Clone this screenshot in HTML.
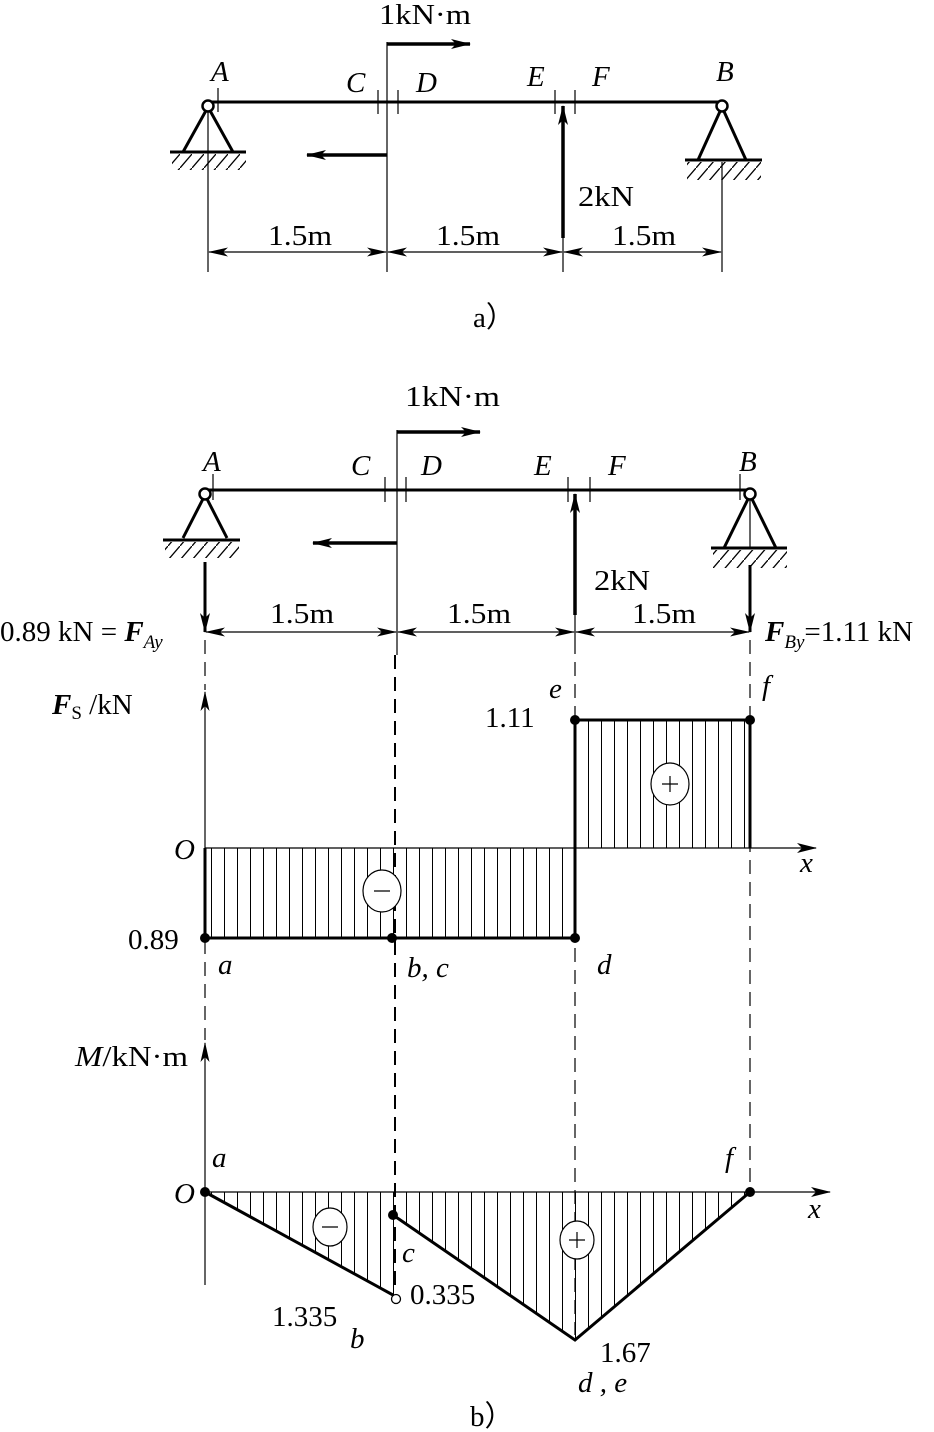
<!DOCTYPE html>
<html><head><meta charset="utf-8"><style>
html,body{margin:0;padding:0;background:#fff}
svg{display:block}
text{font-family:"Liberation Serif",serif;fill:#000;font-size:29px}
.i{font-style:italic}
</style></head><body>
<svg width="934" height="1432" viewBox="0 0 934 1432" xmlns="http://www.w3.org/2000/svg">
<defs>
<marker id="ar" viewBox="0 0 20 10" refX="19" refY="5" markerWidth="20" markerHeight="10" markerUnits="userSpaceOnUse" orient="auto"><path d="M0,0 L20,5 L0,10 L5,5 z" fill="#000"/></marker>
<marker id="as" viewBox="0 0 20 9" refX="19" refY="4.5" markerWidth="20" markerHeight="9" markerUnits="userSpaceOnUse" orient="auto-start-reverse"><path d="M0,0 L20,4.5 L0,9 L5,4.5 z" fill="#000"/></marker>
<pattern id="hp" patternUnits="userSpaceOnUse" x="205" y="0" width="13" height="20"><line x1="6.5" y1="0" x2="6.5" y2="20" stroke="#000" stroke-width="1"/></pattern>
<pattern id="gh" patternUnits="userSpaceOnUse" width="12" height="14"><line x1="12" y1="0" x2="0" y2="14" stroke="#000" stroke-width="1.3"/></pattern>
</defs>
<g stroke="#000" fill="none">
<line x1="208" y1="102" x2="722" y2="102" stroke-width="3"/>
<path d="M208,107 L183,152 M208,107 L233,152" stroke-width="3"/>
<line x1="170" y1="152" x2="246" y2="152" stroke-width="3"/>
<rect x="172" y="154" width="74" height="16" fill="url(#gh)" stroke="none"/>
<circle cx="208" cy="106" r="5.5" fill="#fff" stroke-width="2.5"/>
<path d="M722,107 L698,160 M722,107 L746,160" stroke-width="3"/>
<line x1="685" y1="160" x2="762" y2="160" stroke-width="3"/>
<rect x="687" y="162" width="74" height="18" fill="url(#gh)" stroke="none"/>
<circle cx="722" cy="106" r="5.5" fill="#fff" stroke-width="2.5"/>
<path d="M218,88 V112 M378,90 V114 M398,90 V114 M555,90 V114 M575,90 V114" stroke-width="1.2"/>
<line x1="387" y1="42" x2="387" y2="272" stroke-width="1.2"/>
<line x1="387" y1="44" x2="470" y2="44" stroke-width="3.5" marker-end="url(#ar)"/>
<line x1="387" y1="155" x2="307" y2="155" stroke-width="3.5" marker-end="url(#ar)"/>
<line x1="563" y1="238" x2="563" y2="106" stroke-width="3.5" marker-end="url(#ar)"/>
<path d="M208,112 V272 M722,162 V272 M563,238 V272" stroke-width="1.2"/>
<line x1="209" y1="252" x2="386" y2="252" stroke-width="1.2" marker-start="url(#as)" marker-end="url(#as)"/>
<line x1="388" y1="252" x2="562" y2="252" stroke-width="1.2" marker-start="url(#as)" marker-end="url(#as)"/>
<line x1="564" y1="252" x2="721" y2="252" stroke-width="1.2" marker-start="url(#as)" marker-end="url(#as)"/>

<line x1="205" y1="490" x2="750" y2="490" stroke-width="3"/>
<path d="M205,495 L183,538 M205,495 L227,538" stroke-width="3"/>
<line x1="163" y1="540" x2="240" y2="540" stroke-width="3"/>
<rect x="165" y="542" width="74" height="16" fill="url(#gh)" stroke="none"/>
<circle cx="205" cy="494" r="5.5" fill="#fff" stroke-width="2.5"/>
<path d="M750,495 L724,548 M750,495 L776,548" stroke-width="3"/>
<line x1="711" y1="548" x2="787" y2="548" stroke-width="3"/>
<rect x="713" y="550" width="74" height="18" fill="url(#gh)" stroke="none"/>
<line x1="750" y1="498" x2="750" y2="548" stroke-width="1.2"/>
<circle cx="750" cy="494" r="5.5" fill="#fff" stroke-width="2.5"/>
<path d="M213,474 V500 M385,477 V502 M406,477 V502 M568,477 V502 M590,477 V502 M740,474 V500" stroke-width="1.2"/>
<line x1="397" y1="430" x2="397" y2="655" stroke-width="1.2"/>
<line x1="397" y1="432" x2="480" y2="432" stroke-width="3.5" marker-end="url(#ar)"/>
<line x1="397" y1="543" x2="313" y2="543" stroke-width="3.5" marker-end="url(#ar)"/>
<line x1="575" y1="615" x2="575" y2="494" stroke-width="3.5" marker-end="url(#ar)"/>
<line x1="575" y1="494" x2="575" y2="640" stroke-width="1.2"/>
<line x1="205" y1="562" x2="205" y2="632" stroke-width="3" marker-end="url(#ar)"/>
<line x1="750" y1="565" x2="750" y2="632" stroke-width="3" marker-end="url(#ar)"/>
<line x1="206" y1="632" x2="396" y2="632" stroke-width="1.2" marker-start="url(#as)" marker-end="url(#as)"/>
<line x1="398" y1="632" x2="574" y2="632" stroke-width="1.2" marker-start="url(#as)" marker-end="url(#as)"/>
<line x1="576" y1="632" x2="749" y2="632" stroke-width="1.2" marker-start="url(#as)" marker-end="url(#as)"/>
<g stroke-dasharray="14,8">
<line x1="205" y1="640" x2="205" y2="690" stroke-width="1.2"/>
<line x1="205" y1="940" x2="205" y2="1040" stroke-width="1.2"/>
<line x1="395" y1="655" x2="395" y2="1290" stroke-width="2"/>
<line x1="575" y1="640" x2="575" y2="1335" stroke-width="1.2"/>
<line x1="750" y1="640" x2="750" y2="1190" stroke-width="1.2"/>
</g>
<line x1="205" y1="940" x2="205" y2="692" stroke-width="1.2" marker-end="url(#as)"/>
<line x1="205" y1="848" x2="816" y2="848" stroke-width="1.3" marker-end="url(#ar)"/>
<rect x="205" y="848" width="370" height="90" fill="url(#hp)" stroke="none"/>
<rect x="575" y="720" width="175" height="128" fill="url(#hp)" stroke="none"/>
<path d="M205,848 V938 H575 V720 H750 V848" stroke-width="3"/>
<ellipse cx="382" cy="891" rx="19" ry="21" fill="#fff" stroke-width="1.2"/>
<ellipse cx="670" cy="784" rx="19" ry="21" fill="#fff" stroke-width="1.2"/>
<path d="M374,891 H390 M662,784 H678 M670,776 V792" stroke-width="1.2"/>
<g fill="#000" stroke="none">
<circle cx="205" cy="938" r="5"/><circle cx="392" cy="938" r="5"/><circle cx="575" cy="938" r="5"/><circle cx="575" cy="720" r="5"/><circle cx="750" cy="720" r="5"/>
</g>
<line x1="205" y1="1285" x2="205" y2="1043" stroke-width="1.2" marker-end="url(#as)"/>
<polygon points="205,1192 395,1297 395,1192" fill="url(#hp)" stroke="none"/>
<polygon points="395,1192 395,1215 575,1340 750,1192" fill="url(#hp)" stroke="none"/>
<line x1="205" y1="1192" x2="830" y2="1192" stroke-width="1.3" marker-end="url(#ar)"/>
<path d="M205,1192 L393,1295 M393,1215 L575,1340 L750,1192" stroke-width="3"/>
<circle cx="396" cy="1299" r="4.5" fill="#fff" stroke-width="1.3"/>
<ellipse cx="330" cy="1227" rx="17" ry="19" fill="#fff" stroke-width="1.2"/>
<ellipse cx="577" cy="1240" rx="17" ry="19" fill="#fff" stroke-width="1.2"/>
<path d="M322,1227 H338 M569,1240 H585 M577,1232 V1248" stroke-width="1.2"/>
<g fill="#000" stroke="none">
<circle cx="205" cy="1192" r="5"/><circle cx="393" cy="1215" r="5"/><circle cx="750" cy="1192" r="5"/>
</g>
</g>

<text x="379" y="24" textLength="92" lengthAdjust="spacingAndGlyphs">1kN·m</text>
<text class="i" x="211" y="81">A</text>
<text class="i" x="346" y="92">C</text>
<text class="i" x="416" y="92">D</text>
<text class="i" x="527" y="86">E</text>
<text class="i" x="592" y="86">F</text>
<text class="i" x="716" y="81">B</text>
<text x="578" y="206" textLength="56" lengthAdjust="spacingAndGlyphs">2kN</text>
<text x="268" y="245" textLength="64" lengthAdjust="spacingAndGlyphs">1.5m</text>
<text x="436" y="245" textLength="64" lengthAdjust="spacingAndGlyphs">1.5m</text>
<text x="612" y="245" textLength="64" lengthAdjust="spacingAndGlyphs">1.5m</text>
<text x="473" y="327" font-size="24">a）</text>
<text x="405" y="406" textLength="95" lengthAdjust="spacingAndGlyphs">1kN·m</text>
<text class="i" x="203" y="471">A</text>
<text class="i" x="351" y="475">C</text>
<text class="i" x="421" y="475">D</text>
<text class="i" x="534" y="475">E</text>
<text class="i" x="608" y="475">F</text>
<text class="i" x="739" y="471">B</text>
<text x="594" y="590" textLength="56" lengthAdjust="spacingAndGlyphs">2kN</text>
<text x="270" y="623" textLength="64" lengthAdjust="spacingAndGlyphs">1.5m</text>
<text x="447" y="623" textLength="64" lengthAdjust="spacingAndGlyphs">1.5m</text>
<text x="632" y="623" textLength="64" lengthAdjust="spacingAndGlyphs">1.5m</text>
<text x="0" y="641">0.89 kN = <tspan font-weight="bold" font-style="italic">F</tspan><tspan class="i" font-size="19" dy="7">Ay</tspan></text>
<text x="765" y="641"><tspan font-weight="bold" font-style="italic">F</tspan><tspan class="i" font-size="19" dy="7">By</tspan><tspan dy="-7">=1.11 kN</tspan></text>
<text x="52" y="714"><tspan font-weight="bold" font-style="italic">F</tspan><tspan font-size="19" dy="5">S</tspan><tspan dy="-5"> /kN</tspan></text>
<text class="i" x="174" y="859">O</text>
<text x="128" y="949">0.89</text>
<text class="i" x="218" y="974">a</text>
<text class="i" x="407" y="977">b, c</text>
<text class="i" x="597" y="974">d</text>
<text x="485" y="727">1.11</text>
<text class="i" x="549" y="698">e</text>
<text class="i" x="762" y="695">f</text>
<text class="i" x="800" y="872">x</text>
<text x="75" y="1066" textLength="113" lengthAdjust="spacingAndGlyphs"><tspan class="i">M</tspan>/kN·m</text>
<text class="i" x="212" y="1167">a</text>
<text class="i" x="725" y="1167">f</text>
<text class="i" x="174" y="1203">O</text>
<text class="i" x="808" y="1218">x</text>
<text class="i" x="402" y="1262">c</text>
<text x="410" y="1304">0.335</text>
<text x="272" y="1326">1.335</text>
<text class="i" x="350" y="1348">b</text>
<text x="600" y="1362">1.67</text>
<text class="i" x="578" y="1392">d , e</text>
<text x="470" y="1426" font-size="24">b）</text>
</svg>
</body></html>
